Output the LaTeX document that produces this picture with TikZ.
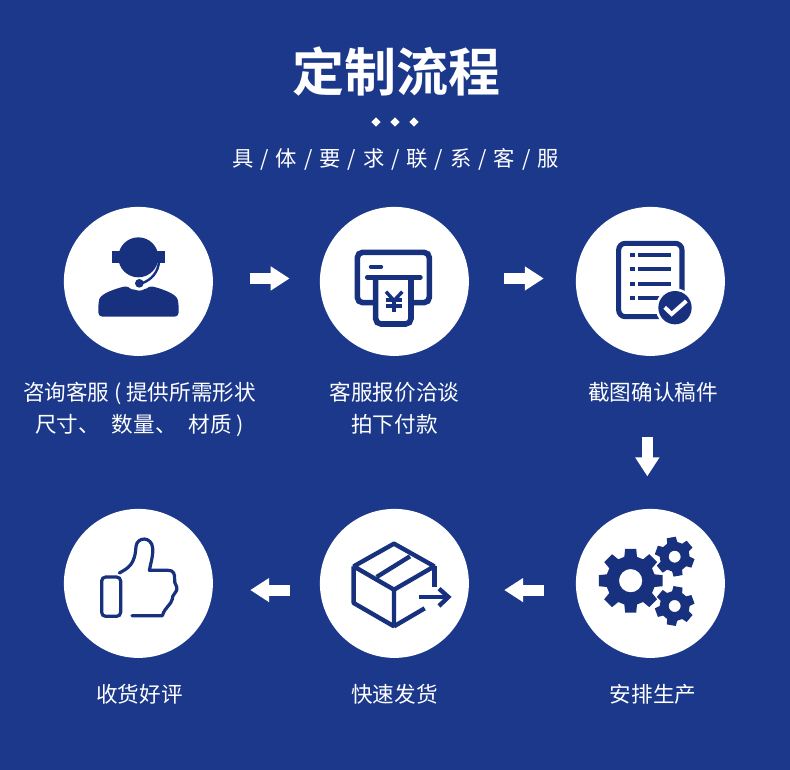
\documentclass[tikz,border=0pt]{standalone}
\usepackage{fontspec}
\setmainfont{Noto Sans CJK SC}[BoldFont={Noto Sans CJK SC Bold}]
\usetikzlibrary{arrows.meta,shapes.geometric}
\definecolor{bgblue}{HTML}{1B388B}
\definecolor{iconblue}{HTML}{17317F}
\tikzset{
  x=0.75pt,y=-0.75pt,
  disc/.style={circle,fill=white,minimum size=111.75pt,inner sep=0pt},
  caption/.style={text=white,font=\fontsize{16.2}{24}\selectfont,align=center,inner sep=0pt},
  flow/.style={draw=white,line width=8.25pt,-{Triangle[length=14.25pt,width=17.25pt]}},
  dot/.style={diamond,fill=white,minimum size=7pt,inner sep=0pt},
  iconline/.style={draw=iconblue,line width=#1,line join=miter},
  iconfill/.style={fill=iconblue},
  iconframe/.style={x=0.25pt,y=-0.25pt},
}
\newcommand{\gearshape}[7]{% cx cy outer root hole teeth rotation
  \pgfmathsetmacro{\gstep}{360/#6}
  \fill[iconfill,even odd rule,line join=round] ([shift={(#1,#2)}]#7-0.33*\gstep:#4)
    \foreach \gi in {1,...,#6}{
      -- ([shift={(#1,#2)}]#7+\gi*\gstep-\gstep-0.22*\gstep:#3)
      -- ([shift={(#1,#2)}]#7+\gi*\gstep-\gstep+0.22*\gstep:#3)
      -- ([shift={(#1,#2)}]#7+\gi*\gstep-\gstep+0.33*\gstep:#4)
      -- ([shift={(#1,#2)}]#7+\gi*\gstep-0.33*\gstep:#4)
    } -- cycle
    (#1,#2) circle (#5);
}
\begin{document}
\begin{tikzpicture}
\useasboundingbox (0,0) rectangle (790,770);
\fill[bgblue] (0,0) rectangle (790,770);

\node[text=white,font=\bfseries\fontsize{39}{39}\selectfont,inner sep=0pt] (title) at (396,72) {定制流程};
\node[dot] (d1) at (376,122) {};
\node[dot] (d2) at (395,122) {};
\node[dot] (d3) at (414,122) {};
\node[text=white,font=\fontsize{16}{20}\selectfont,inner sep=0pt] (sub) at (395.5,159)
 {具\hspace{5.2pt}/\hspace{5.2pt}体\hspace{5.2pt}/\hspace{5.2pt}要\hspace{5.2pt}/\hspace{5.2pt}求\hspace{5.2pt}/\hspace{5.2pt}联\hspace{5.2pt}/\hspace{5.2pt}系\hspace{5.2pt}/\hspace{5.2pt}客\hspace{5.2pt}/\hspace{5.2pt}服};

\node[disc] (c1) at (138.4,281.4) {};
\node[disc] (c2) at (394.4,281.4) {};
\node[disc] (c3) at (650.4,281.4) {};
\node[disc] (c4) at (650.4,583.4) {};
\node[disc] (c5) at (394.4,583.4) {};
\node[disc] (c6) at (138.4,583.4) {};

\node[caption] (t1) at (139.5,409.5) {咨询客服 ( 提供所需形状\\尺寸、\hspace{9pt}数量、\hspace{9pt}材质 )};
\node[caption] (t2) at (394.5,408) {客服报价洽谈\\拍下付款};
\node[caption] (t3) at (653,392) {截图确认稿件};
\node[caption] (t4) at (653,694) {安排生产};
\node[caption] (t5) at (394.5,694) {快速发货};
\node[caption] (t6) at (139.5,694) {收货好评};

\draw[flow,shorten <=27.7pt,shorten >=22.5pt] ([yshift=2.2pt]c1.east) -- ([yshift=2.2pt]c2.west);
\draw[flow,shorten <=26.3pt,shorten >=23.9pt] ([yshift=2.2pt]c2.east) -- ([yshift=2.2pt]c3.west);
\draw[flow,shorten <=60.6pt,shorten >=24.2pt] ([xshift=-2.3pt]c3.south) -- ([xshift=-2.3pt]c4.north);
\draw[flow,shorten <=23.9pt,shorten >=26.3pt] ([yshift=-5pt]c4.west) -- ([yshift=-5pt]c5.east);
\draw[flow,shorten <=22.4pt,shorten >=27.8pt] ([yshift=-5pt]c5.west) -- ([yshift=-5pt]c6.east);

% headset agent
\begin{scope}[shift={(60,200)}]\begin{scope}[iconframe]
  \fill[iconfill,rounded corners=3pt] (115,350) -- (115,310) .. controls (122,280) and (170,265) .. (205,257)
     .. controls (215,270) and (255,270) .. (267,257) .. controls (300,265) and (348,280) .. (356,310)
     -- (356,350) -- cycle;
  \fill[white] (238,250) circle (22);
  \fill[iconfill] (238,250) circle (13);
  \draw[iconline=1.8pt] (297,185) .. controls (295,215) and (275,240) .. (245,250);
  \fill[iconfill] (155,152) rectangle (180,190);
  \fill[iconfill] (290,152) rectangle (316,190);
  \fill[iconfill] (235,172) circle (60);
\end{scope}\end{scope}

% payment terminal
\begin{scope}[shift={(315,200)}]\begin{scope}[iconframe]
  \draw[iconline=4.2pt,rounded corners=4pt] (175,308) -- (127,308) -- (127,157) -- (343,157) -- (343,308) -- (295,308);
  \draw[iconline=3.6pt,line cap=round] (157,232) -- (316,232);
  \draw[iconline=3.2pt,line cap=round] (168,200) -- (198,200);
  \draw[iconline=4.2pt,rounded corners=4pt] (182,232) -- (182,372) -- (288,372) -- (288,232);
  \draw[iconline=2.6pt] (213,275) -- (237,302) -- (262,275);
  \draw[iconline=2.6pt] (237,302) -- (237,336);
  \draw[iconline=2.4pt] (212,300) -- (262,300);
  \draw[iconline=2.4pt] (212,318) -- (262,318);
\end{scope}\end{scope}

% checked list
\begin{scope}[shift={(570,200)}]\begin{scope}[iconframe]
  \draw[iconline=3.8pt,rounded corners=5pt] (146,130) rectangle (336,350);
  \foreach \ly in {165,208,251,294}{
    \fill[iconfill] (180,\ly-6) rectangle (195,\ly+6);
    \draw[iconline=3.2pt] (204,\ly) -- (302,\ly);
  }
  \fill[white] (315,323) circle (58);
  \fill[iconfill] (315,323) circle (50);
  \draw[white,line width=3pt,line join=miter] (284,322) -- (305,342) -- (349,303);
\end{scope}\end{scope}

% gears
\begin{scope}[shift={(570,503)}]\begin{scope}[iconframe]
  \gearshape{182}{233}{97}{74}{35}{8}{0}
  \gearshape{314}{161}{60}{45}{18}{6}{-40}
  \gearshape{314}{309}{60}{45}{18}{6}{-20}
\end{scope}\end{scope}

% parcel
\begin{scope}[shift={(315,503)}]\begin{scope}[iconframe,line join=bevel]
  \draw[draw=iconblue,line width=3.3pt,line join=bevel] (237,122) -- (358,190) -- (237,260) -- (116,190) -- cycle;
  \draw[draw=iconblue,line width=3.3pt,line join=bevel] (116,190) -- (116,300) -- (237,370) -- (237,260);
  \draw[iconline=3.3pt] (358,190) -- (358,252);
  \draw[iconline=3.3pt] (237,370) -- (329,316);
  \draw[iconline=3.3pt] (185,222) -- (285,160);
  \draw[iconline=3.3pt] (312,282) -- (398,282);
  \draw[iconline=3.3pt] (372,257) -- (400,282) -- (372,309);
\end{scope}\end{scope}

% thumbs up
\begin{scope}[shift={(60,503)}]\begin{scope}[iconframe]
  \draw[iconline=2.4pt,rounded corners=3pt] (125,222) rectangle (182,340);
  \draw[iconline=2.4pt,line cap=round,line join=round] (178,210)
     .. controls (205,195) and (225,185) .. (228,130)
     .. controls (232,100) and (275,100) .. (278,135)
     .. controls (280,160) and (272,180) .. (268,202)
     -- (325,202) .. controls (340,202) and (345,212) .. (344,230)
     .. controls (340,240) and (355,250) .. (350,262)
     .. controls (348,272) and (336,275) .. (337,288)
     .. controls (334,305) and (315,312) .. (307,338)
     -- (216,338);
\end{scope}\end{scope}
\end{tikzpicture}
\end{document}
